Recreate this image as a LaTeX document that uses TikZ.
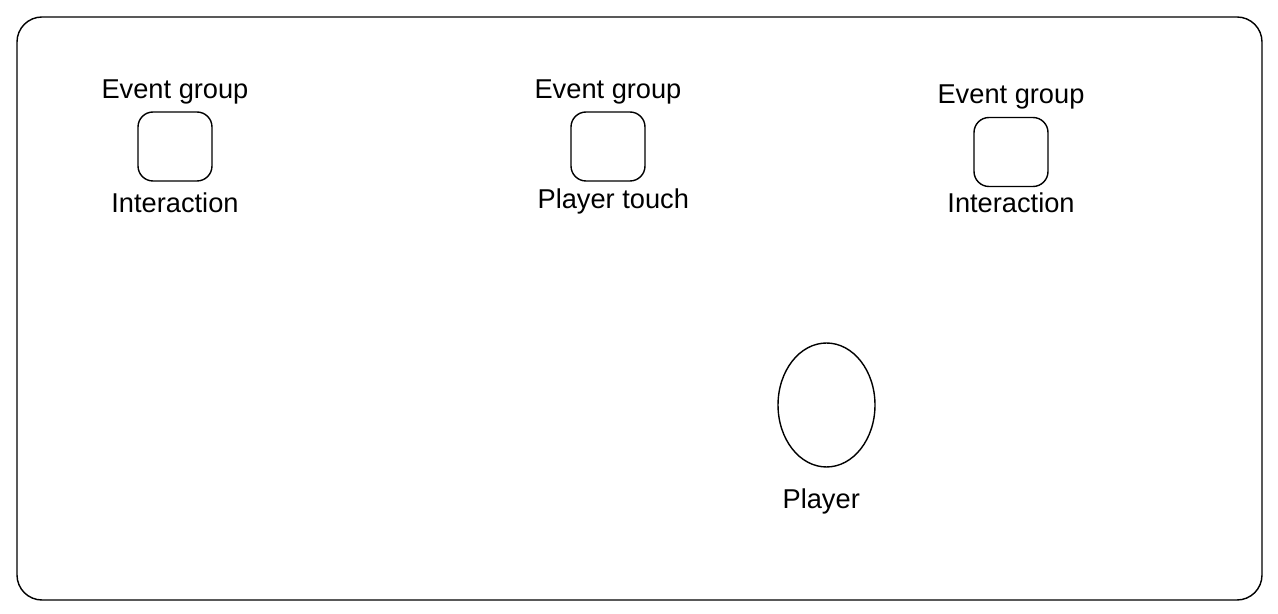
\documentclass[tikz,border=0pt]{standalone}
\usepackage{fontspec}
\setmainfont{Liberation Sans}
\usetikzlibrary{positioning,shapes.geometric}
\tikzset{
  lbl/.style={font=\fontsize{15.5}{18}\selectfont, inner sep=0pt},
  grp/.style={draw, thick, rounded corners=0.3cm, minimum width=1.48cm, minimum height=1.38cm, inner sep=0pt},
  plr/.style={draw, thick, ellipse, minimum width=1.94cm, minimum height=2.48cm, inner sep=0pt}
}
\begin{document}
\begin{tikzpicture}[x=0.02cm, y=-0.02cm]
\useasboundingbox (0,0) rectangle (1278,614);
\draw[thick, rounded corners=0.5cm] (17,17) rectangle (1262,600);

\node[grp] (g1) at (175,146.5) {};
\node[lbl, above=4pt of g1] (e1) {Event group};
\node[lbl, below=6pt of g1] (i1) {Interaction};

\node[grp] (g2) at (608,146.5) {};
\node[lbl, above=4pt of g2] (e2) {Event group};
\node[lbl, below=4pt of g2, xshift=3pt] (t2) {Player touch};

\node[grp] (g3) at (1011,152) {};
\node[lbl, above=4pt of g3] (e3) {Event group};
\node[lbl, below=3pt of g3] (i3) {Interaction};

\node[plr] (p) at (826.5,405) {};
\node[lbl, below=12pt of p, xshift=-3pt] (pl) {Player};
\end{tikzpicture}
\end{document}
